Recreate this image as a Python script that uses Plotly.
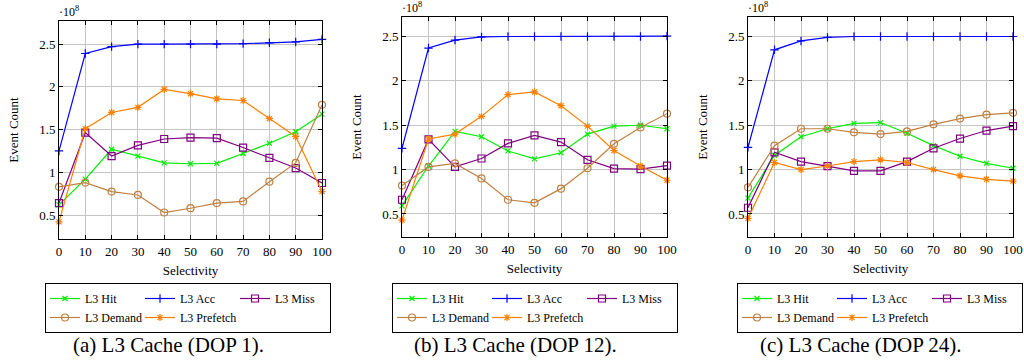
import plotly.graph_objects as go

# ---------------- data (event counts, in units of 10^8) ----------------
selectivity = [0, 10, 20, 30, 40, 50, 60, 70, 80, 90, 100]

hit_dop1 = [0.62, 0.92, 1.27, 1.19, 1.11, 1.10, 1.105, 1.22, 1.34, 1.475, 1.68]
acc_dop1 = [1.25, 2.39, 2.47, 2.50, 2.50, 2.50, 2.50, 2.505, 2.515, 2.525, 2.555]
miss_dop1 = [0.64, 1.465, 1.19, 1.315, 1.39, 1.405, 1.40, 1.29, 1.17, 1.05, 0.875]
demand_dop1 = [0.83, 0.88, 0.775, 0.735, 0.53, 0.58, 0.64, 0.66, 0.89, 1.11, 1.79]
prefetch_dop1 = [0.42, 1.51, 1.70, 1.76, 1.97, 1.92, 1.86, 1.84, 1.63, 1.42, 0.775]

hit_dop12 = [0.59, 1.04, 1.43, 1.37, 1.21, 1.12, 1.19, 1.40, 1.49, 1.50, 1.46]
acc_dop12 = [1.24, 2.37, 2.46, 2.495, 2.50, 2.50, 2.50, 2.50, 2.50, 2.50, 2.505]
miss_dop12 = [0.66, 1.34, 1.03, 1.125, 1.295, 1.385, 1.31, 1.11, 1.01, 1.005, 1.045]
demand_dop12 = [0.82, 1.03, 1.07, 0.90, 0.66, 0.625, 0.785, 1.015, 1.29, 1.475, 1.63]
prefetch_dop12 = [0.43, 1.345, 1.40, 1.60, 1.845, 1.875, 1.72, 1.49, 1.215, 1.04, 0.88]

hit_dop24 = [0.68, 1.16, 1.37, 1.46, 1.52, 1.53, 1.41, 1.27, 1.15, 1.07, 1.015]
acc_dop24 = [1.25, 2.35, 2.45, 2.49, 2.50, 2.50, 2.50, 2.50, 2.50, 2.50, 2.50]
miss_dop24 = [0.57, 1.195, 1.09, 1.04, 0.985, 0.985, 1.09, 1.24, 1.35, 1.44, 1.49]
demand_dop24 = [0.80, 1.27, 1.46, 1.46, 1.42, 1.40, 1.43, 1.51, 1.575, 1.62, 1.64]
prefetch_dop24 = [0.45, 1.08, 1.00, 1.04, 1.09, 1.11, 1.08, 1.00, 0.93, 0.89, 0.87]

series_names = ["L3 Hit", "L3 Acc", "L3 Miss", "L3 Demand", "L3 Prefetch"]
captions = ["(a) L3 Cache (DOP 1).", "(b) L3 Cache (DOP 12).", "(c) L3 Cache (DOP 24)."]
y_tick_vals = [0.5, 1, 1.5, 2, 2.5]
y_tick_text = ["0.5", "1", "1.5", "2", "2.5"]
x_tick_vals = [0, 10, 20, 30, 40, 50, 60, 70, 80, 90, 100]
x_tick_text = ["0", "10", "20", "30", "40", "50", "60", "70", "80", "90", "100"]

panels = [
    [hit_dop1, acc_dop1, miss_dop1, demand_dop1, prefetch_dop1],
    [hit_dop12, acc_dop12, miss_dop12, demand_dop12, prefetch_dop12],
    [hit_dop24, acc_dop24, miss_dop24, demand_dop24, prefetch_dop24],
]

# ---------------- styling ----------------
W, H = 1024, 360
FONT = "Liberation Serif, Times New Roman, serif"
colors = ["#00ee00", "#0000ff", "#800080", "#bf8040", "#ff8000"]
symbols = ["x-thin-open", "cross-thin-open", "square-open", "circle-open", "asterisk-open"]
sizes = [5, 6, 7, 7, 6]
columns = [0, 1, 2, 0, 1]  # legend column of each series

# pixel boxes of the plot areas: (left, right, top, bottom)
boxes = [(59, 322, 21, 239), (402, 667, 17, 237), (748, 1013, 17, 237)]
y_ranges = [[0.22, 2.77], [0.24, 2.72], [0.24, 2.72]]
legend_center = [188, 535, 880]
legend_top = 283
caption_x = [168, 515, 861]

fig = go.Figure()

for p, data in enumerate(panels):
    sfx = "" if p == 0 else str(p + 1)
    leg = "legend" + sfx
    for s, vals in enumerate(data):
        fig.add_trace(go.Scatter(
            x=selectivity, y=vals, name=series_names[s],
            mode="lines+markers",
            line=dict(color=colors[s], width=1.2),
            marker=dict(symbol=symbols[s], size=sizes[s], color=colors[s],
                        line=dict(color=colors[s], width=1.2)),
            xaxis="x" + sfx, yaxis="y" + sfx,
            legend=leg, legendgroup=f"p{p}c{columns[s]}",
            cliponaxis=False,
        ))

layout = dict(
    width=W, height=H,
    margin=dict(l=0, r=0, t=0, b=0, autoexpand=False),
    paper_bgcolor="white", plot_bgcolor="white",
    template="none",
    font=dict(family=FONT, size=12, color="black"),
    annotations=[],
)

for p in range(3):
    sfx = "" if p == 0 else str(p + 1)
    l, r, t, b = boxes[p]
    common = dict(
        showline=True, linecolor="black", linewidth=1, mirror="ticks",
        ticks="inside", ticklen=4, tickcolor="black", tickwidth=1,
        showgrid=True, gridcolor="#c4c4c4", gridwidth=1,
        zeroline=False, automargin=False,
        tickfont=dict(family=FONT, size=13, color="black"),
    )
    layout["xaxis" + sfx] = dict(
        common, domain=[l / W, r / W], range=[0, 100],
        tickvals=x_tick_vals, ticktext=x_tick_text,
        anchor="y" + sfx,
        title=dict(text="Selectivity", font=dict(family=FONT, size=13, color="black"), standoff=8),
    )
    layout["yaxis" + sfx] = dict(
        common, domain=[(H - b) / H, (H - t) / H], range=y_ranges[p],
        tickvals=y_tick_vals, ticktext=y_tick_text,
        anchor="x" + sfx,
        title=dict(text="Event Count", font=dict(family=FONT, size=13, color="black"), standoff=17),
    )
    layout["legend" + sfx] = dict(
        x=legend_center[p] / W, y=(H - legend_top) / H, xanchor="center", yanchor="top",
        orientation="h", traceorder="grouped", tracegroupgap=0,
        entrywidth=50, entrywidthmode="pixels",
        bordercolor="black", borderwidth=1, bgcolor="white",
        font=dict(family=FONT, size=12, color="black"),
    )
    layout["annotations"].append(dict(
        text="·10<sup>8</sup>", xref="paper", yref="paper",
        x=l / W, y=(H - t) / H, xanchor="left", yanchor="bottom",
        showarrow=False, font=dict(family=FONT, size=12, color="black"), xshift=-2,
    ))
    layout["annotations"].append(dict(
        text=captions[p], xref="paper", yref="paper",
        x=caption_x[p] / W, y=(H - 345) / H, xanchor="center", yanchor="middle",
        showarrow=False, font=dict(family=FONT, size=21, color="black"),
    ))

fig.update_layout(**layout)
fig.write_html("out.html")
